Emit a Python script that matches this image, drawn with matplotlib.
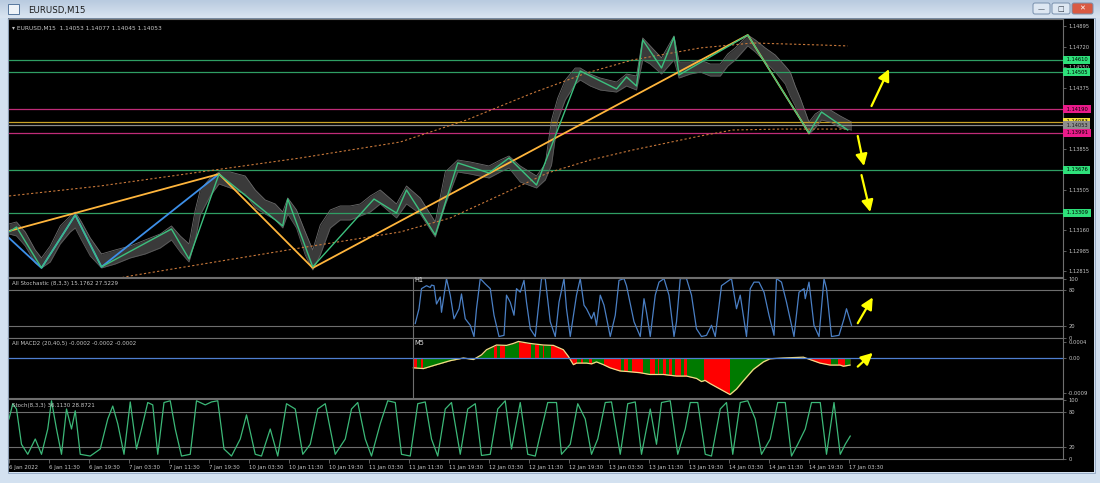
import numpy as np
import matplotlib.pyplot as plt
import matplotlib.transforms as mtransforms
from matplotlib.patches import Rectangle, FancyBboxPatch
from matplotlib.colors import LinearSegmentedColormap

# ---------------- data (bar index = one M15 candle) ----------------
time_labels = ['6 Jan 2022', '6 Jan 11:30', '6 Jan 19:30', '7 Jan 03:30', '7 Jan 11:30',
               '7 Jan 19:30', '10 Jan 03:30', '10 Jan 11:30', '10 Jan 19:30', '11 Jan 03:30',
               '11 Jan 11:30', '11 Jan 19:30', '12 Jan 03:30', '12 Jan 11:30', '12 Jan 19:30',
               '13 Jan 03:30', '13 Jan 11:30', '13 Jan 19:30', '14 Jan 03:30', '14 Jan 11:30',
               '14 Jan 19:30', '17 Jan 03:30']
price_ticks = [1.14895, 1.14720, 1.14550, 1.14375, 1.13855, 1.13505, 1.13160, 1.12985, 1.12815]

px_bar = [0, 6, 13, 21, 26, 33, 41, 49, 53, 58, 65, 74, 85, 97, 109, 121, 130, 137, 144, 149,
          153, 161, 168, 177, 189, 197, 205, 213, 219, 223, 230, 237, 243, 249, 257, 265, 273, 281,
          289, 297, 310, 318, 329, 341, 349, 359, 369, 384, 393, 400, 409, 422, 429, 434, 439, 445,
          453, 457, 465, 473, 486, 494, 502, 507, 513, 522, 532, 536, 545, 553, 561, 569, 575, 581,
          591, 597, 605, 613, 621, 625, 629, 633, 640, 645, 650, 657, 665, 674]
px_high = [1.13215, 1.13232, 1.13147, 1.12994, 1.12926, 1.13028, 1.13198, 1.13283, 1.13317, 1.13232,
           1.13096, 1.12960, 1.12994, 1.13028, 1.13079, 1.13130, 1.13198, 1.13113, 1.13045, 1.13334,
           1.13504, 1.13606, 1.13657, 1.13657, 1.13623, 1.13504, 1.13419, 1.13385, 1.13317, 1.13436,
           1.13334, 1.13147, 1.12994, 1.13206, 1.13334, 1.13368, 1.13368, 1.13385, 1.13453, 1.13504,
           1.13385, 1.13538, 1.13436, 1.13232, 1.13657, 1.13759, 1.13742, 1.13708, 1.13759, 1.13793,
           1.13708, 1.13623, 1.13725, 1.14099, 1.14286, 1.14439, 1.14541, 1.14541, 1.14490, 1.14456,
           1.14422, 1.14490, 1.14473, 1.14797, 1.14729, 1.14627, 1.14814, 1.14592, 1.14592, 1.14610,
           1.14575, 1.14575, 1.14661, 1.14712, 1.14822, 1.14780, 1.14712, 1.14652, 1.14558, 1.14507,
           1.14388, 1.14286, 1.14082, 1.14150, 1.14184, 1.14184, 1.14133, 1.14082]
px_low = [1.13130, 1.13113, 1.13028, 1.12883, 1.12841, 1.12892, 1.13045, 1.13147, 1.13181, 1.13079,
          1.12943, 1.12841, 1.12875, 1.12926, 1.12960, 1.13011, 1.13079, 1.12977, 1.12892, 1.13079,
          1.13291, 1.13453, 1.13555, 1.13521, 1.13470, 1.13351, 1.13300, 1.13249, 1.13181, 1.13300,
          1.13181, 1.12951, 1.12824, 1.12951, 1.13181, 1.13249, 1.13249, 1.13283, 1.13317, 1.13385,
          1.13266, 1.13385, 1.13300, 1.13104, 1.13376, 1.13657, 1.13640, 1.13606, 1.13657, 1.13691,
          1.13572, 1.13521, 1.13589, 1.13717, 1.14099, 1.14269, 1.14405, 1.14439, 1.14388, 1.14354,
          1.14337, 1.14388, 1.14354, 1.14610, 1.14575, 1.14490, 1.14610, 1.14456, 1.14490, 1.14507,
          1.14473, 1.14473, 1.14558, 1.14610, 1.14729, 1.14678, 1.14592, 1.14507, 1.14405, 1.14303,
          1.14218, 1.14099, 1.13980, 1.14031, 1.14099, 1.14082, 1.14031, 1.14014]

zz_orange_bar = [0, 168, 243, 591, 640]
zz_orange_px = [1.13155, 1.13640, 1.12841, 1.14822, 1.13988]
zz_blue_bar = [0, 26, 53, 74, 168]
zz_blue_px = [1.13096, 1.12841, 1.13291, 1.12850, 1.13640]
zz_green_bar = [0, 6, 26, 53, 74, 130, 144, 168, 219, 223, 243, 292, 310, 318, 341, 359, 384,
                400, 422, 457, 486, 494, 502, 507, 522, 532, 536, 591, 640, 650, 671]
zz_green_px = [1.13147, 1.13189, 1.12841, 1.13291, 1.12850, 1.13172, 1.12917, 1.13640, 1.13198,
               1.13427, 1.12850, 1.13427, 1.13308, 1.13504, 1.13121, 1.13734, 1.13649, 1.13776,
               1.13546, 1.14516, 1.14363, 1.14465, 1.14388, 1.14780, 1.14541, 1.14805, 1.14482,
               1.14822, 1.13988, 1.14167, 1.14014]

chan_up_bar = [0, 73, 153, 233, 313, 366, 419, 462, 499, 553, 595, 649, 671]
chan_up_px = [1.13453, 1.13538, 1.13657, 1.13776, 1.13912, 1.14099, 1.14329, 1.14499, 1.14610,
              1.14712, 1.14754, 1.14737, 1.14729]
chan_lo_bar = [73, 97, 233, 313, 353, 393, 431, 465, 499, 553, 579, 617, 671]
chan_lo_px = [1.12722, 1.12773, 1.13011, 1.13147, 1.13266, 1.13461, 1.13649, 1.13759, 1.13844,
              1.13963, 1.14014, 1.14022, 1.14022]

levels_green = [1.14610, 1.14505, 1.13676, 1.13309]
levels_magenta = [1.14190, 1.13991]
level_yellow = 1.14083
level_last = 1.14053

# All Stochastic (H1) - starts where the H1 history begins
stk_bar = [325, 328, 330, 334, 337, 338, 340, 342, 345, 346, 350, 353, 356, 360, 362, 365, 369,
           372, 374, 377, 381, 385, 388, 392, 396, 398, 401, 404, 406, 409, 412, 414, 417, 421,
           426, 429, 433, 437, 440, 444, 446, 449, 454, 457, 460, 462, 466, 468, 470, 473, 476,
           481, 485, 488, 492, 494, 500, 505, 508, 510, 513, 517, 520, 524, 528, 532, 534, 537,
           542, 546, 550, 554, 558, 562, 565, 570, 574, 578, 582, 585, 590, 593, 596, 600, 604,
           608, 612, 614, 618, 622, 628, 632, 636, 637, 640, 644, 648, 652, 654, 658, 664, 668,
           670, 674]
stk_val = [24, 49, 83, 88, 85, 89, 88, 57, 69, 43, 100, 72, 32, 49, 74, 32, 21, 2, 49, 100, 91,
           83, 38, 2, 4, 72, 60, 38, 83, 77, 97, 60, 15, 2, 100, 100, 27, 2, 60, 100, 49, 2, 72,
           100, 55, 49, 32, 43, 21, 72, 55, 2, 38, 97, 100, 88, 27, 2, 66, 43, 2, 72, 94, 100,
           72, 2, 27, 100, 100, 72, 15, 2, 4, 21, 2, 88, 94, 100, 49, 72, 2, 83, 94, 94, 77, 38,
           4, 100, 94, 60, 2, 77, 83, 66, 94, 21, 2, 100, 83, 2, 4, 32, 49, 21]

# All MACD2 (M5) histogram outline, units of 1e-4
macd_bar = [323.5, 331.5, 342, 352.8, 363.5, 371.5, 378, 382, 390, 398, 403.5, 407.5, 416.8,
            427.5, 435.5, 443.5, 447.5, 451.5, 454, 462, 466, 470, 475.5, 480.8, 488.8, 496.8,
            504.8, 512.8, 523.5, 534, 542, 550, 554, 556.8, 560.8, 568.8, 576.8, 582, 587.5,
            595.5, 603.5, 608.8, 619.5, 635.5, 640.8, 648.8, 656.8, 664.8, 667.5, 672.8]
macd_val = [-2.5, -2.7, -1.7, -0.7, 0.0, -0.4, 0.8, 2.1, 3.3, 3.2, 3.7, 4.2, 3.7, 3.3, 3.2, 2.1,
            0.4, -1.7, -1.3, -1.3, -1.5, -1.0, -1.7, -2.5, -3.3, -3.5, -3.75, -4.2, -4.2, -4.6,
            -4.6, -5.2, -6.0, -5.7, -6.5, -7.9, -9.3, -7.9, -5.8, -2.9, -1.0, -0.2, 0.0, 0.2,
            -0.4, -1.3, -1.8, -1.8, -2.1, -1.8]
macd_green_spans = [(326.7, 328.8), (331.5, 387.5), (390.7, 392.3), (396.8, 407.5), (417.3, 420),
                    (424.3, 426.1), (428, 430.1), (431.5, 432.8), (454.2, 456.8), (459.5, 463.5),
                    (466.2, 475.5), (489.4, 491), (495.5, 497.4), (507.5, 511.7), (516.8, 518.7),
                    (520.3, 522.2), (525.6, 527.5), (530.2, 532), (537.4, 539), (542.2, 555.5),
                    (576.8, 638.2), (657.4, 662.7), (668.8, 674.2)]

# Stoch(8,3,3) M15
sto_bar = [0, 3, 6, 10, 15, 21, 26, 31, 34, 38, 42, 46, 50, 53, 57, 65, 73, 79, 83, 87, 92, 97,
           102, 106, 111, 115, 119, 124, 129, 133, 138, 145, 150, 157, 162, 167, 172, 178, 185,
           190, 197, 202, 209, 215, 222, 229, 235, 241, 247, 253, 261, 269, 274, 279, 285, 290,
           297, 303, 309, 314, 321, 327, 333, 338, 343, 349, 354, 361, 367, 373, 378, 385, 391,
           397, 402, 409, 415, 421, 426, 431, 438, 442, 449, 455, 461, 466, 471, 477, 482, 489,
           495, 501, 506, 513, 518, 522, 529, 535, 541, 545, 551, 557, 562, 569, 574, 579, 585,
           591, 597, 602, 609, 615, 621, 626, 631, 637, 642, 649, 654, 660, 665, 669, 673]
sto_val = [68, 94, 85, 25, 8, 34, 8, 51, 99, 51, 8, 85, 51, 82, 8, 5, 17, 68, 90, 60, 8, 97, 17,
           51, 96, 92, 8, 96, 99, 51, 5, 8, 99, 92, 97, 99, 17, 5, 34, 75, 8, 5, 51, 5, 94, 85, 8,
           25, 85, 94, 8, 34, 85, 96, 34, 5, 60, 99, 96, 8, 5, 94, 97, 34, 5, 85, 96, 8, 85, 94,
           6, 8, 85, 99, 17, 96, 8, 5, 51, 96, 96, 8, 25, 94, 68, 8, 34, 96, 97, 8, 94, 97, 8, 85,
           25, 96, 99, 8, 51, 96, 96, 8, 5, 85, 96, 8, 96, 99, 68, 8, 34, 96, 96, 5, 25, 51, 96,
           96, 8, 96, 8, 25, 39]

# yellow hand-drawn arrows: (bar0, v0, bar1, v1)
arrows_main = [(690, 1.14218, 704, 1.14532), (679, 1.13963, 684, 1.13708),
               (682, 1.13631, 689, 1.13317)]
arrow_stk = (679, 24.5, 691, 68.2)
arrow_macd = (679, -2.2, 691, 1.3)

# ---------------- figure ----------------
W, H = 1100, 483
fig = plt.figure(figsize=(W / 100, H / 100), dpi=100)
fig.patch.set_facecolor('#d3e1f0')
plt.rcParams['font.family'] = ['DejaVu Sans']

GRID = '#6e6e6e'
TXT = '#c6c6c6'
BAR0, BAR1 = -0.8, 843.2


def px_axes(x0, y0, x1, y1):
    return fig.add_axes([x0 / W, 1 - y1 / H, (x1 - x0) / W, (y1 - y0) / H])


bg = px_axes(8, 18, 1094, 472)
bg.set_facecolor('black')
bg.set_xticks([])
bg.set_yticks([])
for s in bg.spines.values():
    s.set_visible(False)


def panel(y0, y1, ylim):
    ax = px_axes(8, y0, 1063, y1)
    ax.set_facecolor('black')
    ax.set_xlim(BAR0, BAR1)
    ax.set_ylim(*ylim)
    for s in ax.spines.values():
        s.set_color(GRID)
        s.set_linewidth(0.8)
    ax.yaxis.tick_right()
    ax.tick_params(axis='y', colors=GRID, labelcolor=TXT, labelsize=3.7, length=2.5,
                   width=0.6, pad=1.2)
    ax.set_xticks([])
    return ax


def label_box(ax, y, text, fc, tc='black'):
    tr = mtransforms.blended_transform_factory(ax.transAxes, ax.transData)
    ax.text(1.0015, y, ' ' + text + ' ', transform=tr, fontsize=3.7, color=tc, va='center',
            ha='left', clip_on=False, bbox=dict(boxstyle='square,pad=0.3', fc=fc, ec='none'))


def yellow_arrow(ax, a):
    ax.annotate('', xy=(a[2], a[3]), xytext=(a[0], a[1]),
                arrowprops=dict(arrowstyle='-|>,head_length=0.7,head_width=0.35',
                                color='#ffff00', lw=1.6, mutation_scale=10, shrinkA=0, shrinkB=0))


# ---- main price panel ----
main = panel(19, 277, (1.12764, 1.14958))
main.set_yticks(price_ticks)
main.set_yticklabels([f'{p:.5f}' for p in price_ticks])

for lv in levels_green:
    main.axhline(lv, color='#2f9e63', lw=0.9)
for lv in levels_magenta:
    main.axhline(lv, color='#c02c78', lw=0.9)
main.axhline(level_yellow, color='#c9a227', lw=0.9)
main.axhline(level_last, color='#8c8c8c', lw=0.9)

main.fill_between(px_bar, px_low, px_high, color='#3a3a3a', lw=0)
main.plot(px_bar, px_high, color='#6c6c6c', lw=0.6)
main.plot(px_bar, px_low, color='#5c5c5c', lw=0.6)

main.plot(chan_up_bar, chan_up_px, color='#c8783a', lw=0.8, ls=(0, (2, 2)))
main.plot(chan_lo_bar, chan_lo_px, color='#c8783a', lw=0.8, ls=(0, (2, 2)))

main.plot(zz_blue_bar, zz_blue_px, color='#3d8fe8', lw=1.3)
main.plot(zz_orange_bar, zz_orange_px, color='#ffb53c', lw=1.3)
main.plot(zz_green_bar, zz_green_px, color='#3cc07e', lw=1.0)

for lv in levels_green:
    label_box(main, lv, f'{lv:.5f}', '#2ee07a')
for lv in levels_magenta:
    label_box(main, lv, f'{lv:.5f}', '#ea1a8a')
label_box(main, level_yellow, f'{level_yellow:.5f}', '#f3e03a')
label_box(main, level_last, f'{level_last:.5f}', '#8e8e8e', '#1a1a1a')

for a in arrows_main:
    yellow_arrow(main, a)

main.text(0.004, 0.965, '\u25be EURUSD,M15  1.14053 1.14077 1.14045 1.14053',
          transform=main.transAxes, fontsize=4.2, color=TXT, va='center')

# ---- All Stochastic panel ----
stk = panel(278, 338, (-0.5, 101))
stk.set_yticks([100, 80, 20, 0])
stk.set_yticklabels(['100', '80', '20', '0'])
stk.axhline(80, color=GRID, lw=0.8)
stk.axhline(20, color=GRID, lw=0.8)
stk.axvline(323.2, color=GRID, lw=0.8)
stk.plot(stk_bar, stk_val, color='#4a7fc4', lw=0.9)
yellow_arrow(stk, arrow_stk)
stk.text(0.004, 0.9, 'All Stochastic (8,3,3) 15.1762 27.5229', transform=stk.transAxes,
         fontsize=4.0, color=TXT, va='center')
stk.text(324.5, 97, 'H1', fontsize=4.8, color='#e0e0e0', va='center')

# ---- All MACD2 panel ----
macd = panel(338, 398, (-10.18, 5.08))
macd.set_yticks([4, 0, -9])
macd.set_yticklabels(['0.0004', '0.00', '-0.0009'])
macd.fill_between(macd_bar, 0, macd_val, color='#ff0000', lw=0)
span_tr = mtransforms.blended_transform_factory(macd.transData, macd.transAxes)
for a, b in macd_green_spans:
    g = macd.fill_between(macd_bar, 0, macd_val, color='#007a00', lw=0)
    g.set_clip_path(Rectangle((a, 0), b - a, 1, transform=span_tr))
macd.plot(macd_bar, macd_val, color='#f2dc8a', lw=0.9)
macd.axhline(0, color='#4f7fd0', lw=0.9)
macd.axvline(323.2, color=GRID, lw=0.8)
yellow_arrow(macd, arrow_macd)
macd.text(0.004, 0.9, 'All MACD2 (20,40,5) -0.0002 -0.0002 -0.0002', transform=macd.transAxes,
          fontsize=4.0, color=TXT, va='center')
macd.text(324.5, 3.9, 'M5', fontsize=4.8, color='#e0e0e0', va='center')

# ---- Stoch panel ----
sto = panel(399, 459, (0, 102))
sto.set_yticks([100, 80, 20, 0])
sto.set_yticklabels(['100', '80', '20', '0'])
sto.axhline(80, color=GRID, lw=0.8)
sto.axhline(20, color=GRID, lw=0.8)
sto.plot(sto_bar, sto_val, color='#3cb878', lw=0.9)
sto.text(0.004, 0.9, 'Stoch(8,3,3) 36.1130 28.8721', transform=sto.transAxes,
         fontsize=4.0, color=TXT, va='center')
sto.set_xticks(np.arange(len(time_labels)) * 32)
sto.set_xticklabels(time_labels)
sto.tick_params(axis='x', colors=GRID, labelcolor=TXT, labelsize=3.9, length=3, width=0.6, pad=1.5)
for t in sto.get_xticklabels():
    t.set_horizontalalignment('left')

# ---- window chrome ----
ov = fig.add_axes([0, 0, 1, 1])
ov.axis('off')
ov.patch.set_alpha(0)
cm = LinearSegmentedColormap.from_list('bar', ['#b9cbe0', '#d9e4f0'])
ov.imshow(np.linspace(0, 1, 20).reshape(-1, 1), cmap=cm, extent=(0, W, 18, 0), aspect='auto')
ov.set_xlim(0, W)
ov.set_ylim(H, 0)
ov.add_patch(Rectangle((8, 4), 11, 10, fc='#eef3f8', ec='#56779e', lw=0.7))
ov.text(28, 10, 'EURUSD,M15', fontsize=6.2, color='#1c1c1c', va='center')
for x0, w, fc, sym in [(1033, 17, '#dde7f2', '\u2014'), (1052, 18, '#dde7f2', '\u25a1'),
                       (1072, 21, '#d95a43', '\u2715')]:
    ov.add_patch(FancyBboxPatch((x0, 3), w, 11, boxstyle='round,pad=0,rounding_size=2',
                                fc=fc, ec='#7890ad', lw=0.7))
    ov.text(x0 + w / 2, 8.8, sym, fontsize=5, color='#303a48' if fc != '#d95a43' else 'white',
            ha='center', va='center')
ov.add_patch(Rectangle((7.5, 17.5), 1087, 455, fill=False, ec='#8ea4bf', lw=0.6))

fig.savefig('out.png', dpi=100, facecolor=fig.get_facecolor())
